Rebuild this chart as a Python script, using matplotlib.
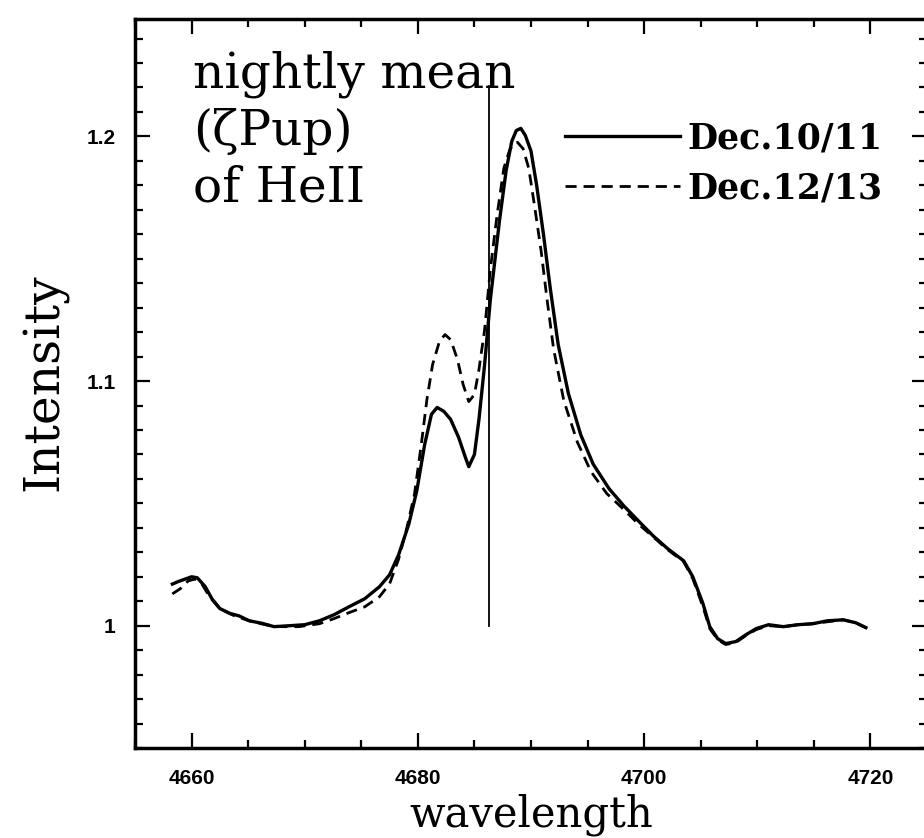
import numpy as np
import matplotlib
matplotlib.use("Agg")
import matplotlib.pyplot as plt
from matplotlib.ticker import MultipleLocator

# nightly mean He II 4686 profiles of zeta Pup
wl_1011 = [4658.3, 4658.8, 4659.4, 4660.0, 4660.5, 4661.2, 4661.8, 4662.5, 4663.4, 4664.2,
           4665.1, 4666.2, 4667.3, 4668.7, 4670.0, 4671.3, 4672.6, 4673.9, 4675.3, 4676.6,
           4677.5, 4678.3, 4679.2, 4679.9, 4680.6, 4681.2, 4681.7, 4682.3, 4682.9, 4683.6,
           4684.2, 4684.5, 4685.0, 4685.4, 4685.9, 4686.4, 4687.2, 4687.8, 4688.3, 4688.7,
           4689.1, 4689.5, 4690.0, 4690.5, 4691.1, 4691.7, 4692.4, 4693.3, 4694.4, 4695.5,
           4696.9, 4698.2, 4699.5, 4700.8, 4702.1, 4703.5, 4704.3, 4705.2, 4705.8, 4706.5,
           4707.2, 4708.1, 4709.0, 4709.9, 4711.0, 4712.3, 4713.6, 4714.9, 4716.2, 4717.6,
           4718.7, 4719.6]
int_1011 = [1.017, 1.018, 1.019, 1.020, 1.0196, 1.016, 1.011, 1.007, 1.005, 1.004,
            1.002, 1.001, 0.9996, 1.000, 1.0004, 1.002, 1.0045, 1.0077, 1.011, 1.0159,
            1.0208, 1.029, 1.0415, 1.055, 1.074, 1.0864, 1.0892, 1.0876, 1.0843, 1.077,
            1.0688, 1.065, 1.070, 1.0843, 1.1067, 1.133, 1.165, 1.186, 1.198, 1.2024,
            1.2033, 1.2004, 1.194, 1.180, 1.160, 1.138, 1.115, 1.095, 1.078, 1.066,
            1.056, 1.049, 1.0428, 1.0367, 1.0314, 1.0265, 1.020, 1.009, 0.9996, 0.9947,
            0.9927, 0.9935, 0.9963, 0.9988, 1.0004, 0.9996, 1.0004, 1.0008, 1.002, 1.0024,
            1.0012, 0.9992]

wl_1213 = [4658.3, 4659.0, 4659.7, 4660.3, 4660.9, 4661.6, 4662.5, 4663.8, 4665.1, 4666.5,
           4667.8, 4669.5, 4671.3, 4672.6, 4673.9, 4675.3, 4676.6, 4677.5, 4678.3, 4679.0,
           4679.7, 4680.3, 4680.8, 4681.3, 4681.9, 4682.4, 4682.9, 4683.5, 4684.0, 4684.5,
           4685.0, 4685.4, 4685.9, 4686.4, 4687.0, 4687.6, 4688.1, 4688.5, 4688.8, 4689.3,
           4689.8, 4690.3, 4690.9, 4691.4, 4692.0, 4692.9, 4694.1, 4695.3, 4696.7, 4698.2,
           4699.5, 4700.8, 4702.1, 4703.5, 4704.3, 4705.2, 4705.8, 4706.5, 4707.2, 4708.1,
           4709.0, 4709.9, 4711.0, 4712.3, 4713.6, 4714.9, 4716.2, 4717.6, 4718.7, 4719.6]
int_1213 = [1.013, 1.0151, 1.0183, 1.0191, 1.0171, 1.0118, 1.0069, 1.004, 1.002, 1.0004,
            0.9996, 0.9996, 1.0008, 1.0029, 1.0053, 1.0077, 1.0118, 1.0171, 1.0272, 1.0395,
            1.0537, 1.074, 1.0924, 1.1067, 1.1161, 1.119, 1.1169, 1.1088, 1.0986, 1.0916,
            1.0945, 1.1047, 1.1210, 1.1454, 1.1678, 1.1870, 1.1943, 1.1972, 1.1976, 1.1950,
            1.1870, 1.1720, 1.1530, 1.1340, 1.1130, 1.0920, 1.0750, 1.0630, 1.054, 1.0475,
            1.0415, 1.0363, 1.031, 1.0261, 1.0192, 1.0077, 0.9988, 0.9943, 0.9923, 0.9931,
            0.996, 0.9984, 1.0, 0.9996, 1.0004, 1.0008, 1.0016, 1.0024, 1.0012, 0.9992]

# rest wavelength marker of He II
he_line_x = [4686.3, 4686.3]
he_line_y = [1.0, 1.2208]

labels = ["Dec.10/11", "Dec.12/13"]
title_lines = ["nightly mean", "(\u03b6Pup)", "of HeII"]

fig = plt.figure(figsize=(9.24, 8.38), dpi=100)
ax = fig.add_axes([135 / 924, 90 / 838, 792 / 924, 729 / 838])

l1, = ax.plot(wl_1011, int_1011, color="black", lw=2.4)
l2, = ax.plot(wl_1213, int_1213, color="black", lw=2.0, ls=(0, (4, 2.5)))
ax.plot(he_line_x, he_line_y, color="black", lw=1.3)

ax.set_xlim(4655, 4725)
ax.set_ylim(0.95, 1.248)
ax.xaxis.set_major_locator(MultipleLocator(20))
ax.xaxis.set_minor_locator(MultipleLocator(5))
ax.yaxis.set_major_locator(MultipleLocator(0.1))
ax.yaxis.set_minor_locator(MultipleLocator(0.01))
ax.set_yticks([1.0, 1.1, 1.2])
ax.set_yticklabels(["1", "1.1", "1.2"])

for s in ax.spines.values():
    s.set_linewidth(2.5)
ax.tick_params(which="both", direction="in", top=True, right=True, width=1.6)
ax.tick_params(which="major", length=11)
ax.tick_params(which="minor", length=5.5)
ax.tick_params(axis="x", pad=15)
ax.tick_params(axis="y", pad=14)
for lab in ax.get_xticklabels() + ax.get_yticklabels():
    lab.set_fontfamily("Liberation Sans")
    lab.set_fontweight("bold")
    lab.set_fontsize(15)

ax.set_xlabel("wavelength", fontfamily="DejaVu Serif", fontsize=30)
ax.xaxis.set_label_coords(0.5, -0.062)
ax.set_ylabel("Intensity", fontfamily="DejaVu Serif", fontsize=35, va="center")
ax.yaxis.set_label_coords(-0.1136, 0.502)

baselines = [88, 145, 201]
for txt, yb in zip(title_lines, baselines):
    ax.text((193 - 135) / 792, (748 - yb) / 729, txt, transform=ax.transAxes,
            fontfamily="DejaVu Serif", fontsize=35, va="baseline", ha="left")

ax.legend([l1, l2], labels, loc="center left", bbox_to_anchor=(0.543, 0.802),
          frameon=False, borderpad=0, borderaxespad=0, handlelength=3.3,
          handletextpad=0.22, labelspacing=0.45,
          prop={"family": "DejaVu Serif", "weight": "bold", "size": 25})

fig.savefig("out.png", dpi=100)
